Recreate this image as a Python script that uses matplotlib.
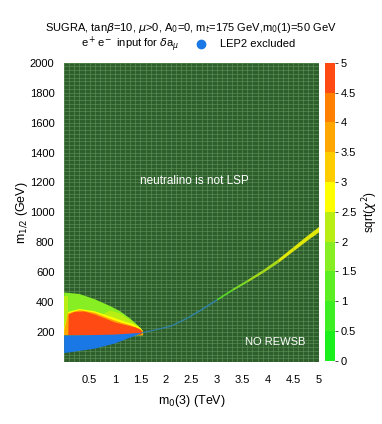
# SUGRA m0(3) - m1/2 plane, sqrt(chi^2) with e+e- input for delta a_mu

import numpy as np
import matplotlib.pyplot as plt
from matplotlib.colors import ListedColormap, BoundaryNorm
from matplotlib.cm import ScalarMappable
from matplotlib.lines import Line2D
from matplotlib.ticker import MultipleLocator

plt.rcParams['font.family'] = ['Liberation Sans', 'DejaVu Sans']

# colour scale
levels = [0, 0.5, 1, 1.5, 2, 2.5, 3, 3.5, 4, 4.5, 5]
level_colors = ['#1cf01c', '#3cee22', '#5cee22', '#86ee22', '#b8ee14',
                '#ffff00', '#ffcc00', '#ffa600', '#ff8000', '#ff4a14']

# LEP2 excluded region (m0 in TeV, m1/2 in GeV)
lep_m0 = [0.0, 0.5, 1.0, 1.5, 1.5, 1.0, 0.6, 0.2, 0.0]
lep_m12 = [178, 180, 184, 195, 190, 125, 90, 70, 60]

# allowed region, nested contours (outer -> inner) with sqrt(chi^2) value
blob_m0 = {
    1.7: [0.0, 0.3, 0.6, 0.9, 1.1, 1.3, 1.45, 1.55, 1.55, 0.0],
    2.2: [0.0, 0.05, 0.5, 0.9, 1.1, 1.3, 1.45, 1.55, 1.55, 0.0],
    2.7: [0.0, 0.08, 0.3, 0.6, 0.9, 1.15, 1.35, 1.5, 1.55, 1.55, 0.0],
    3.7: [0.0, 0.07, 0.3, 0.6, 0.85, 1.1, 1.3, 1.48, 1.55, 1.55, 0.0],
    4.7: [0.08, 0.09, 0.2, 0.4, 0.6, 0.8, 1.0, 1.2, 1.4, 1.5, 1.55, 1.5, 0.08],
}
blob_m12 = {
    1.7: [465, 455, 420, 375, 340, 290, 245, 205, 180, 180],
    2.2: [440, 430, 380, 345, 325, 280, 240, 205, 180, 180],
    2.7: [225, 335, 355, 340, 305, 275, 255, 228, 205, 180, 180],
    3.7: [205, 325, 347, 330, 296, 266, 247, 222, 203, 180, 180],
    4.7: [180, 318, 335, 338, 318, 292, 265, 248, 232, 217, 198, 182, 180],
}

# narrow strip along the no-REWSB boundary
strip_m0 = [1.5, 1.8, 2.1, 2.4, 2.7, 3.0, 3.3, 3.6, 3.9, 4.2, 4.5, 4.8, 5.0]
strip_m12 = [198, 220, 245, 295, 355, 420, 485, 545, 608, 678, 758, 838, 888]
strip_half = [4, 4, 5, 5, 6, 6, 7, 8, 10, 12, 14, 16, 18]
strip_chi = [-1, -1, -1, -1, -1, 1.2, 1.7, 2.2, 2.3, 2.7, 2.8, 2.8, 2.9]

cmap = ListedColormap(level_colors)
norm = BoundaryNorm(levels, cmap.N)
lep_color = '#1a78e6'

fig = plt.figure(figsize=(3.82, 4.24), dpi=100)
ax = fig.add_axes([0.168, 0.146, 0.666, 0.706])
ax.set_facecolor('#2f5e2d')

ax.fill(blob_m0[1.7], blob_m12[1.7], color=cmap(norm(1.7)), lw=0)
ax.fill(blob_m0[2.2][3:], blob_m12[2.2][3:], color=cmap(norm(2.2)), lw=0)
ax.fill([0, 0.07, 0.07, 0], [180, 180, 440, 440], color=cmap(norm(2.2)), lw=0)
for v in [2.7, 3.7, 4.7]:
    ax.fill(blob_m0[v], blob_m12[v], color=cmap(norm(v)), lw=0)
ax.fill(lep_m0, lep_m12, color=lep_color, lw=0)

for i in range(len(strip_m0) - 1):
    xs = strip_m0[i:i + 2]
    lo = [strip_m12[i] - strip_half[i], strip_m12[i + 1] - strip_half[i + 1]]
    hi = [strip_m12[i] + strip_half[i], strip_m12[i + 1] + strip_half[i + 1]]
    c = '#2f86b8' if strip_chi[i] < 0 else cmap(norm(strip_chi[i]))
    ax.fill_between(xs, lo, hi, color=c, lw=0, alpha=0.85)

ax.set_xlim(0, 5)
ax.set_ylim(0, 2000)
ax.set_xticks([0.5, 1, 1.5, 2, 2.5, 3, 3.5, 4, 4.5, 5])
ax.set_xticklabels(['0.5', '1', '1.5', '2', '2.5', '3', '3.5', '4', '4.5', '5'])
ax.set_yticks(range(200, 2001, 200))
ax.xaxis.set_minor_locator(MultipleLocator(0.1))
ax.yaxis.set_minor_locator(MultipleLocator(25))
ax.grid(which='both', color='#6a9f62', lw=0.4, alpha=0.85)
ax.set_axisbelow(True)
ax.tick_params(which='both', length=0, labelsize=8)
ax.tick_params(axis='x', pad=9)
ax.tick_params(axis='y', pad=7)
for s in ax.spines.values():
    s.set_visible(False)

ax.set_xlabel('m$_0$(3) (TeV)', fontsize=9, labelpad=6)
ax.set_ylabel('m$_{1/2}$ (GeV)', fontsize=9, labelpad=0)

ax.text(2.55, 1210, 'neutralino is not LSP', color='white', fontsize=8.5,
        ha='center', va='center')
ax.text(4.15, 135, 'NO REWSB', color='white', fontsize=8, ha='center', va='center')

cax = fig.add_axes([0.851, 0.149, 0.027, 0.703])
cb = fig.colorbar(ScalarMappable(norm=norm, cmap=cmap), cax=cax, ticks=levels)
cb.set_ticklabels(['0', '0.5', '1', '1.5', '2', '2.5', '3', '3.5', '4', '4.5', '5'])
cb.outline.set_visible(False)
cax.tick_params(length=2, width=0.5, labelsize=8, pad=2)
cb.set_label('sqrt($\\chi^2$)', fontsize=8.5, labelpad=3)

fig.text(0.5, 0.933, 'SUGRA, tan$\\beta$=10, $\\mu$>0, A$_0$=0, m$_t$=175 GeV,m$_0$(1)=50 GeV',
         ha='center', va='center', fontsize=8)
fig.text(0.34, 0.895, 'e$^+$e$^-$ input for $\\delta$a$_\\mu$', ha='center', va='center', fontsize=8)
fig.add_artist(Line2D([0.527], [0.897], marker='o', ms=6, color=lep_color,
                      transform=fig.transFigure))
fig.text(0.575, 0.897, 'LEP2 excluded', ha='left', va='center', fontsize=8)

fig.savefig('out.png', dpi=100)
